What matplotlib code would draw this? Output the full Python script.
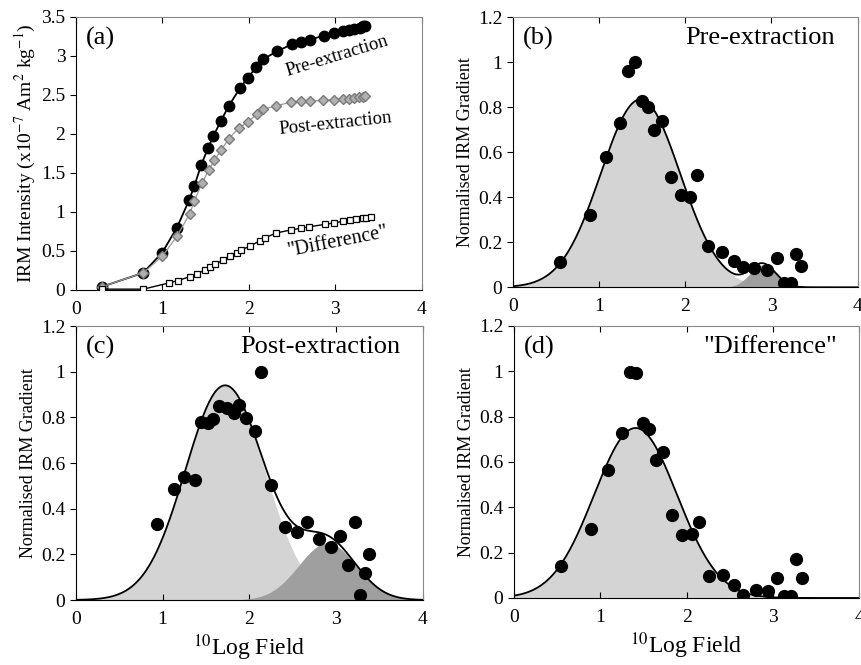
import numpy as np
import matplotlib
matplotlib.use("Agg")
import matplotlib.pyplot as plt

plt.rcParams['font.family'] = ['Liberation Serif', 'DejaVu Serif']
plt.rcParams['mathtext.fontset'] = 'stix'

# panel (a): cumulative IRM curves
pre_x = [0.30, 0.78, 1.00, 1.17, 1.31, 1.37, 1.45, 1.53, 1.59, 1.68, 1.77, 1.90, 1.99, 2.09,
         2.17, 2.33, 2.50, 2.60, 2.71, 2.87, 2.99, 3.09, 3.16, 3.22, 3.29, 3.32, 3.35]
pre_y = [0.04, 0.22, 0.48, 0.80, 1.15, 1.33, 1.60, 1.82, 1.97, 2.17, 2.36, 2.59, 2.72, 2.86,
         2.96, 3.06, 3.15, 3.18, 3.21, 3.26, 3.29, 3.32, 3.33, 3.35, 3.36, 3.38, 3.39]
post_x = [0.30, 0.78, 1.00, 1.17, 1.32, 1.37, 1.46, 1.54, 1.60, 1.68, 1.77, 1.89, 1.99, 2.10,
          2.17, 2.32, 2.49, 2.60, 2.71, 2.86, 2.99, 3.09, 3.16, 3.22, 3.28, 3.32, 3.35]
post_y = [0.04, 0.22, 0.43, 0.69, 0.98, 1.14, 1.37, 1.54, 1.66, 1.79, 1.94, 2.08, 2.15, 2.26,
          2.32, 2.36, 2.41, 2.42, 2.42, 2.43, 2.44, 2.45, 2.45, 2.46, 2.47, 2.48, 2.49]
diff_x = [0.30, 0.78, 1.08, 1.18, 1.32, 1.40, 1.49, 1.55, 1.61, 1.70, 1.78, 1.86, 1.91, 2.01,
          2.13, 2.19, 2.32, 2.49, 2.60, 2.70, 2.88, 2.99, 3.09, 3.17, 3.24, 3.32, 3.36, 3.42]
diff_y = [0.01, 0.01, 0.09, 0.12, 0.17, 0.20, 0.26, 0.30, 0.33, 0.38, 0.43, 0.47, 0.51, 0.56,
          0.63, 0.67, 0.73, 0.77, 0.79, 0.81, 0.84, 0.86, 0.88, 0.90, 0.91, 0.92, 0.92, 0.93]

# panels (b)-(d): gradient data points
b_x = [0.55, 0.89, 1.08, 1.24, 1.34, 1.42, 1.50, 1.57, 1.64, 1.73, 1.84, 1.95, 2.06,
       2.14, 2.26, 2.43, 2.56, 2.67, 2.80, 2.95, 3.06, 3.15, 3.23, 3.29, 3.34]
b_y = [0.114, 0.32, 0.58, 0.73, 0.96, 1.00, 0.83, 0.80, 0.70, 0.74, 0.49, 0.41, 0.40,
       0.50, 0.185, 0.155, 0.117, 0.089, 0.084, 0.075, 0.129, 0.021, 0.021, 0.148, 0.096]
c_x = [0.93, 1.13, 1.25, 1.37, 1.44, 1.52, 1.58, 1.65, 1.74, 1.82, 1.88, 1.96, 2.06,
       2.14, 2.25, 2.41, 2.55, 2.66, 2.80, 2.94, 3.05, 3.14, 3.22, 3.28, 3.33, 3.38]
c_y = [0.333, 0.486, 0.54, 0.525, 0.78, 0.777, 0.794, 0.851, 0.842, 0.82, 0.854, 0.796, 0.742,
       0.997, 0.504, 0.318, 0.30, 0.343, 0.269, 0.231, 0.28, 0.153, 0.343, 0.022, 0.12, 0.20]
d_x = [0.55, 0.89, 1.09, 1.25, 1.34, 1.42, 1.50, 1.57, 1.65, 1.73, 1.83, 1.95, 2.06,
       2.14, 2.26, 2.42, 2.55, 2.65, 2.80, 2.94, 3.05, 3.13, 3.21, 3.27, 3.33]
d_y = [0.142, 0.306, 0.563, 0.726, 0.999, 0.994, 0.771, 0.745, 0.607, 0.646, 0.364, 0.276, 0.281,
       0.335, 0.095, 0.10, 0.059, 0.015, 0.035, 0.032, 0.088, 0.007, 0.007, 0.173, 0.087]

# fitted components: (mean log field, dispersion, peak height)
b_comps = [(1.48, 0.46, 0.835), (2.90, 0.15, 0.10)]
c_comps = [(1.72, 0.457, 0.94), (2.90, 0.33, 0.25)]
d_comps = [(1.41, 0.48, 0.75)]

comp_colors = ['#d4d4d4', '#9f9f9f']


def gauss(x, mu, s, a):
    return a * np.exp(-(x - mu) ** 2 / (2 * s ** 2))


def style_axes(ax, ymax, ystep):
    ax.set_xlim(0, 4)
    ax.set_ylim(0, ymax)
    ax.set_xticks([0, 1, 2, 3, 4])
    ax.set_yticks(np.arange(0, ymax + 1e-9, ystep))
    ax.set_yticklabels([('%g' % v) for v in np.arange(0, ymax + 1e-9, ystep)])
    ax.tick_params(axis='x', direction='in', top=True, length=4, labelsize=14, pad=8)
    ax.tick_params(axis='y', direction='out', length=4, labelsize=14)
    for s in ['top', 'right']:
        ax.spines[s].set_color('#888888')
        ax.spines[s].set_linewidth(0.8)


def gradient_panel(ax, px, py, comps, letter, title):
    xs = np.linspace(0, 4, 400)
    total = np.zeros_like(xs)
    for i, (mu, s, a) in enumerate(comps):
        g = gauss(xs, mu, s, a)
        total += g
        ax.fill_between(xs, 0, g, color=comp_colors[i], lw=0, zorder=1 + i)
    ax.plot(xs, total, color='black', lw=1.3, zorder=4)
    ax.plot(px, py, 'o', color='black', ms=8.5, zorder=5)
    style_axes(ax, 1.2, 0.2)
    ax.set_ylabel('Normalised IRM Gradient', fontsize=13, labelpad=3)
    ax.text(0.03, 0.965, letter, transform=ax.transAxes, fontsize=19, va='top')
    ax.text(0.935, 0.965, title, transform=ax.transAxes, fontsize=19, va='top', ha='right')


fig = plt.figure(figsize=(8.62, 6.65), dpi=100)
ax_a = fig.add_axes([0.088, 0.564, 0.401, 0.4105])
ax_b = fig.add_axes([0.595, 0.568, 0.400, 0.406])
ax_c = fig.add_axes([0.088, 0.0977, 0.4025, 0.412])
ax_d = fig.add_axes([0.596, 0.1008, 0.401, 0.409])

# (a)
ax_a.plot(pre_x, pre_y, color='black', lw=1.3, marker='o', ms=7.5, zorder=2)
ax_a.plot(post_x, post_y, color='#9a9a9a', lw=0.9, marker='D', ms=5.5,
          mfc='#b0b0b0', mec='#7a7a7a', zorder=3)
ax_a.plot(diff_x, diff_y, color='black', lw=1.0, marker='s', ms=5, mfc='white', mec='black',
          mew=0.9, zorder=3)
style_axes(ax_a, 3.5, 0.5)
ax_a.set_ylabel(r'IRM Intensity (x10$^{-7}$ Am$^{2}$ kg$^{-1}$)', fontsize=14, labelpad=2)
ax_a.text(0.03, 0.965, '(a)', transform=ax_a.transAxes, fontsize=19, va='top')
ax_a.text(3.02, 3.0, 'Pre-extraction', fontsize=13.5, rotation=17, ha='center', va='center')
ax_a.text(3.01, 2.13, 'Post-extraction', fontsize=13.5, rotation=6, ha='center', va='center')
ax_a.text(3.04, 0.62, '"Difference"', fontsize=14.5, rotation=11, ha='center', va='center')

gradient_panel(ax_b, b_x, b_y, b_comps, '(b)', 'Pre-extraction')
gradient_panel(ax_c, c_x, c_y, c_comps, '(c)', 'Post-extraction')
gradient_panel(ax_d, d_x, d_y, d_comps, '(d)', '"Difference"')

for ax in (ax_c, ax_d):
    ax.set_xlabel(r'$^{10}$Log Field', fontsize=17, labelpad=3)

fig.savefig('out.png', dpi=100)
